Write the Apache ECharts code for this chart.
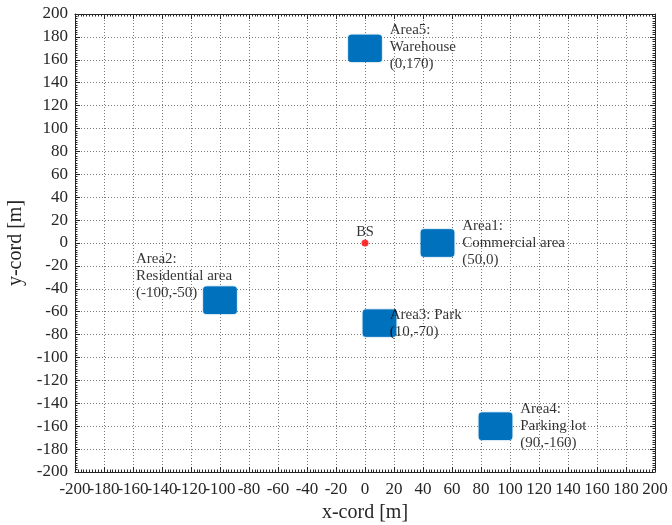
<!DOCTYPE html>
<html>
<head>
<meta charset="utf-8">
<script src="https://cdn.jsdelivr.net/npm/echarts@6/dist/echarts.min.js"></script>
<style>
  html, body { margin: 0; padding: 0; background: #fff; }
  #chart { width: 672px; height: 525px; }
</style>
</head>
<body>
<div id="chart"></div>
<script>
// Service areas: centre coordinates [m] and half side length of each square zone
const areaNames = ['Area1', 'Area2', 'Area3', 'Area4', 'Area5'];
const areaX = [50, -100, 10, 90, 0];
const areaY = [0, -50, -70, -160, 170];
const areaHalfSide = 10;

// Annotation text for each area and where it is anchored
const areaLabels = [
  'Area1:\nCommercial area\n(50,0)',
  'Area2:\nResidential area\n(-100,-50)',
  'Area3: Park\n(10,-70)',
  'Area4:\nParking lot\n(90,-160)',
  'Area5:\nWarehouse\n(0,170)'
];
const labelX = [67, -158, 17, 107, 17];
const labelY = [0, -29, -70, -160, 171];

// Base station position
const bsX = [0];
const bsY = [0];
const bsLabel = ['BS'];

// Axis range and tick step
const axisMin = -200;
const axisMax = 200;
const tickStep = 20;

const serif = 'Liberation Serif, Times New Roman, serif';
const ink = '#262626';

const chart = echarts.init(document.getElementById('chart'), null, { renderer: 'canvas' });

function baseAxis(extra) {
  return Object.assign({
    type: 'value',
    min: axisMin,
    max: axisMax,
    interval: tickStep,
    axisLine: { show: true, onZero: false, lineStyle: { color: ink, width: 1 } },
    axisTick: { show: true, inside: true, length: 5, lineStyle: { color: ink } },
    minorTick: { show: true, splitNumber: 10, length: 2.5, lineStyle: { color: ink } },
    splitLine: { show: false },
    axisLabel: { show: false }
  }, extra);
}

// x tick labels are tightly packed; alternate ones go on two overlaid label rows
// so that every value is printed even where neighbouring labels touch
function xLabelRow(parity) {
  return {
    show: true, fontFamily: serif, fontSize: 17, color: ink, margin: 9,
    hideOverlap: false, showMinLabel: true, showMaxLabel: true,
    formatter: v => (Math.round((v - axisMin) / tickStep) % 2 === parity ? String(v) : '')
  };
}

const areaData = areaX.map((x, i) => [x, areaY[i], areaNames[i]]);
const labelData = labelX.map((x, i) => [x, labelY[i], areaLabels[i]]);

chart.setOption({
  animation: false,
  backgroundColor: '#fff',
  grid: { left: 75, right: 17, top: 14, bottom: 53, containLabel: false, outerBoundsMode: 'none' },
  xAxis: [
    baseAxis({
      position: 'bottom',
      name: 'x-cord [m]',
      nameLocation: 'middle',
      nameGap: 31,
      nameTextStyle: { fontFamily: serif, fontSize: 20, color: ink },
      axisLabel: xLabelRow(0),
      splitLine: { show: true, lineStyle: { color: '#7a7a7a', type: [1, 2], width: 1 } }
    }),
    baseAxis({ position: 'top' }),
    baseAxis({
      position: 'bottom',
      axisLine: { show: false },
      axisTick: { show: false },
      minorTick: { show: false },
      axisLabel: xLabelRow(1)
    })
  ],
  yAxis: [
    baseAxis({
      position: 'left',
      name: 'y-cord [m]',
      nameLocation: 'middle',
      nameGap: 43,
      nameTextStyle: { fontFamily: serif, fontSize: 20, color: ink },
      axisLabel: {
        show: true, fontFamily: serif, fontSize: 17, color: ink, margin: 7,
        showMinLabel: true, showMaxLabel: true
      },
      splitLine: { show: true, lineStyle: { color: '#7a7a7a', type: [1, 2], width: 1 } }
    }),
    baseAxis({ position: 'right' })
  ],
  series: [
    {
      // square zones populated by users
      type: 'custom',
      xAxisIndex: 0,
      yAxisIndex: 0,
      data: areaData,
      renderItem: function (params, api) {
        const cx = api.value(0), cy = api.value(1);
        const p1 = api.coord([cx - areaHalfSide, cy + areaHalfSide]);
        const p2 = api.coord([cx + areaHalfSide, cy - areaHalfSide]);
        return {
          type: 'rect',
          shape: { x: p1[0], y: p1[1], width: p2[0] - p1[0], height: p2[1] - p1[1], r: 1 },
          style: {
            fill: '#0072BD',
            stroke: '#0072BD',
            lineWidth: 4.5,
            lineJoin: 'round',
            shadowBlur: 1.5,
            shadowColor: 'rgba(0,114,189,0.8)'
          }
        };
      },
      z: 3
    },
    {
      // area annotations
      type: 'scatter',
      data: labelData,
      symbolSize: 0,
      silent: true,
      label: {
        show: true,
        position: [0, 0],
        align: 'left',
        verticalAlign: 'middle',
        formatter: p => p.value[2],
        fontFamily: serif,
        fontSize: 15,
        lineHeight: 17,
        color: '#000'
      },
      z: 5
    },
    {
      // base station
      type: 'scatter',
      data: bsX.map((x, i) => [x, bsY[i], bsLabel[i]]),
      symbol: 'circle',
      symbolSize: 7,
      itemStyle: { color: '#ff0000' },
      label: {
        show: true,
        position: 'top',
        distance: 0,
        formatter: p => p.value[2],
        fontFamily: serif,
        fontSize: 14.5,
        color: '#000'
      },
      z: 6
    }
  ]
});
</script>
</body>
</html>
